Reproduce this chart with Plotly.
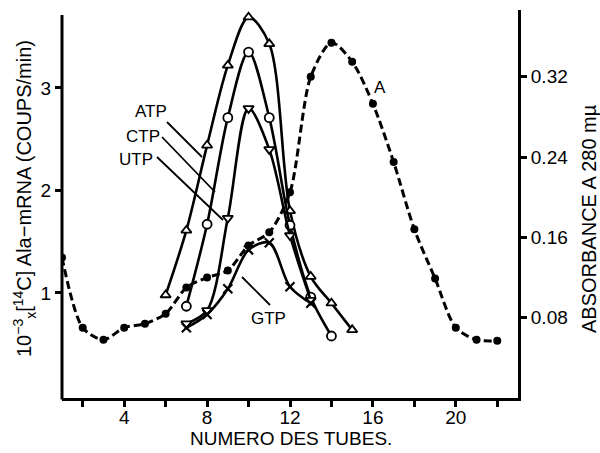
import plotly.graph_objects as go

# ---- data ----
tubes_A = [1, 2, 3, 4, 5, 6, 7, 8, 9, 10, 11, 12, 13, 14, 15, 16, 17, 18, 19, 20, 21, 22]
absorb_A = [0.140, 0.070, 0.058, 0.070, 0.074, 0.084, 0.110, 0.120, 0.127, 0.152, 0.165,
            0.205, 0.320, 0.354, 0.335, 0.293, 0.235, 0.168, 0.119, 0.070, 0.058, 0.057]

tubes_ATP = [6, 7, 8, 9, 10, 11, 12, 13, 14, 15]
atp = [0.98, 1.61, 2.44, 3.22, 3.69, 3.43, 1.80, 1.16, 0.90, 0.64]

tubes_CTP = [7, 8, 9, 10, 11, 12, 13, 14]
ctp = [0.87, 1.67, 2.71, 3.35, 2.71, 1.66, 0.96, 0.58]

tubes_UTP = [7, 8, 9, 10, 11, 12, 13]
utp = [0.70, 0.83, 1.73, 2.80, 2.40, 1.56, 0.93]

tubes_GTP = [7, 8, 9, 10, 11, 12, 13]
gtp = [0.66, 0.79, 1.04, 1.42, 1.49, 1.06, 0.90]

x_major_ticks = [4, 8, 12, 16, 20]
x_minor_ticks = [2, 6, 10, 14, 18, 22]
yl_tickvals = [1, 2, 3]
yr_tickvals = [0.08, 0.16, 0.24, 0.32]
yr_ticktext = ["0.08", "0.16", "0.24", "0.32"]

FONT = "Liberation Sans, Arial, Helvetica, sans-serif"
BLACK = "black"

# plot area in pixels
L, R, T, B = 62, 518, 10, 398
W, H = 600, 453


def px(xp, yp):
    """pixel -> paper coords"""
    return (xp - L) / (R - L), (B - yp) / (B - T)


fig = go.Figure()

fig.add_trace(go.Scatter(
    x=tubes_A, y=absorb_A, yaxis="y2", mode="lines+markers", name="A",
    line=dict(color=BLACK, width=3, dash="8px,4px", shape="spline", smoothing=0.8),
    marker=dict(symbol="circle", size=8, color=BLACK)))

open_marker = dict(color="white", size=9, line=dict(color=BLACK, width=1.8))

fig.add_trace(go.Scatter(
    x=tubes_ATP, y=atp, mode="lines+markers", name="ATP",
    line=dict(color=BLACK, width=2.6, shape="spline", smoothing=0.9),
    marker=dict(symbol="triangle-up", **open_marker)))
fig.add_trace(go.Scatter(
    x=tubes_CTP, y=ctp, mode="lines+markers", name="CTP",
    line=dict(color=BLACK, width=2.6, shape="spline", smoothing=0.9),
    marker=dict(symbol="circle", **open_marker)))
fig.add_trace(go.Scatter(
    x=tubes_UTP, y=utp, mode="lines+markers", name="UTP",
    line=dict(color=BLACK, width=2.6, shape="spline", smoothing=0.9),
    marker=dict(symbol="triangle-down", **open_marker)))
fig.add_trace(go.Scatter(
    x=tubes_GTP, y=gtp, mode="lines+markers", name="GTP",
    line=dict(color=BLACK, width=2.6, shape="spline", smoothing=0.9),
    marker=dict(symbol="x-thin", size=9, line=dict(color=BLACK, width=2.2))))

# label pointers
pointers = [((167, 122), (202, 157)), ((162, 137), (215, 192)),
            ((157, 157), (223, 220)), ((242, 277), (270, 305))]
shapes = []
for (a, b) in pointers:
    x0, y0 = px(*a)
    x1, y1 = px(*b)
    shapes.append(dict(type="line", xref="paper", yref="paper", x0=x0, y0=y0, x1=x1, y1=y1,
                       line=dict(color=BLACK, width=1.8)))
# left axis line (slightly shorter than the right one, as in the reference)
_, ytop = px(62, 15)
shapes.append(dict(type="line", xref="paper", yref="paper", x0=0, x1=0, y0=-0.004, y1=ytop,
                   line=dict(color=BLACK, width=3)))

labels = [("ATP", 151, 112), ("CTP", 143, 136), ("UTP", 136, 160), ("GTP", 268, 318), ("A", 380, 88)]
annotations = []
for t, xp, yp in labels:
    xx, yy = px(xp, yp)
    annotations.append(dict(text=t, xref="paper", yref="paper", x=xx, y=yy, showarrow=False,
                            font=dict(family=FONT, size=17, color=BLACK),
                            xanchor="center", yanchor="middle"))

# axis titles
xx, yy = px(291, 438)
annotations.append(dict(text="NUMERO DES TUBES.", xref="paper", yref="paper", x=xx, y=yy,
                        showarrow=False, font=dict(family=FONT, size=19, color=BLACK),
                        xanchor="center", yanchor="middle"))
xx, yy = px(24, 199)
annotations.append(dict(text="10<sup>−3</sup><sub>x</sub>[<sup>14</sup>C] Ala−mRNA (COUPS/min)",
                        xref="paper", yref="paper", x=xx, y=yy, textangle=-90,
                        showarrow=False, font=dict(family=FONT, size=20, color=BLACK),
                        xanchor="center", yanchor="middle"))
xx, yy = px(589, 219)
annotations.append(dict(text="ABSORBANCE A 280 mµ", xref="paper", yref="paper", x=xx, y=yy,
                        textangle=-90, showarrow=False,
                        font=dict(family=FONT, size=20, color=BLACK),
                        xanchor="center", yanchor="middle"))

axis_common = dict(showgrid=False, zeroline=False, linecolor=BLACK, linewidth=3,
                   ticks="outside", ticklen=6, tickwidth=2.5, tickcolor=BLACK)

fig.update_layout(
    width=W, height=H,
    margin=dict(l=L, r=W - R, t=T, b=H - B, pad=0),
    paper_bgcolor="white", plot_bgcolor="white",
    showlegend=False,
    font=dict(family=FONT, color=BLACK, size=17),
    xaxis=dict(range=[1, 23], tickvals=x_major_ticks, showline=True,
               minor=dict(tickvals=x_minor_ticks, ticks="outside", ticklen=6, tickwidth=2.5,
                          tickcolor=BLACK, showgrid=False),
               ticklabelstandoff=-6,
               tickfont=dict(family=FONT, size=19, color=BLACK), **axis_common),
    yaxis=dict(range=[-0.025, 3.76], tickvals=yl_tickvals, showline=False,
               tickfont=dict(family=FONT, size=19, color=BLACK), **axis_common),
    yaxis2=dict(range=[0, 0.3865], overlaying="y", side="right", tickvals=yr_tickvals,
                ticktext=yr_ticktext, showline=True,
                tickfont=dict(family=FONT, size=19, color=BLACK), **axis_common),
    shapes=shapes,
    annotations=annotations,
)

fig.write_html("out.html", config={"displayModeBar": False},
               post_script="document.body.style.margin='0px';document.body.style.padding='0px';")
